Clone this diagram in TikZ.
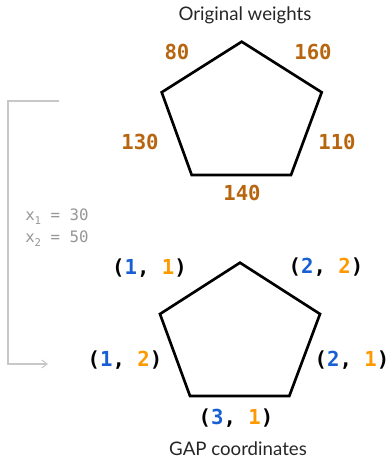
\documentclass[tikz,border=0pt]{standalone}
\usepackage{fontspec}
\setmainfont{Lato}
\newfontfamily\codefont{DejaVu Sans Mono}
\usepackage{xcolor}
\usetikzlibrary{arrows.meta}

\definecolor{wbrown}{RGB}{184,101,16}
\definecolor{gblue}{RGB}{24,95,212}
\definecolor{gorange}{RGB}{255,153,0}
\definecolor{guide}{RGB}{200,200,200}
\definecolor{note}{RGB}{150,150,150}

\newcommand{\gap}[2]{({\color{gblue}#1}, {\color{gorange}#2})}
\newcommand{\lowidx}[1]{\raisebox{-0.45ex}{\fontsize{8}{9}\selectfont #1}}

\begin{document}
\begin{tikzpicture}[
		x=0.75pt, y=-0.75pt,
		>=Stealth,
		poly/.style={draw=black, line width=2pt, line join=miter},
		weight/.style={font=\codefont\bfseries\fontsize{15.5}{17}\selectfont, text=wbrown, inner sep=0pt},
		coord/.style={font=\codefont\bfseries\fontsize{15.5}{17}\selectfont, text=black, inner sep=0pt},
		caption/.style={font=\fontsize{14}{16}\selectfont, text=black!85, inner sep=0pt},
		noteline/.style={font=\codefont\fontsize{11.8}{13}\selectfont, text=note, anchor=west, inner sep=0pt},
		guideline/.style={->, line width=0.8pt, guide, arrows={-Straight Barb[length=4pt,width=6pt]}}
		]
		\useasboundingbox (0,0) rectangle (390,458);
		
		% original weights
		\node[caption] (top title) at (245,15) {Original weights};
		\coordinate (t top) at (241.7,41.7);
		\coordinate (t ul) at (161.7,92.3);
		\coordinate (t ur) at (321.7,92.3);
		\coordinate (t ll) at (191.7,175);
		\coordinate (t lr) at (291,175);
		\draw[poly] (t top) -- (t ur) -- (t lr) -- (t ll) -- (t ul) -- cycle;
		\node[weight] (w ul) at (177,52) {80};
		\node[weight] (w ur) at (313,52) {160};
		\node[weight] (w l) at (140,142) {130};
		\node[weight] (w r) at (337,142) {110};
		\node[weight] (w b) at (242,193) {140};
		
		% GAP coordinates
		\coordinate (b top) at (240,262.7);
		\coordinate (b ul) at (160,314);
		\coordinate (b ur) at (320,314);
		\coordinate (b ll) at (190,396);
		\coordinate (b lr) at (289.3,396);
		\draw[poly] (b top) -- (b ur) -- (b lr) -- (b ll) -- (b ul) -- cycle;
		\node[coord] (g ul) at (149.5,268) {\gap{1}{1}};
		\node[coord] (g ur) at (326,267) {\gap{2}{2}};
		\node[coord] (g l) at (125,360) {\gap{1}{2}};
		\node[coord] (g r) at (352,360) {\gap{2}{1}};
		\node[coord] (g b) at (236,418) {\gap{3}{1}};
		\node[caption] (bottom title) at (238,449) {GAP coordinates};
		
		% mapping
		\coordinate (map start) at (59,101);
		\coordinate (map end) at (48,364);
		\draw[guideline] (map start) -- (8,101) |- (map end);
		\node[noteline] (x one) at (25,217) {x\lowidx{1} = 30};
		\node[noteline] (x two) at (25,239) {x\lowidx{2} = 50};
\end{tikzpicture}
\end{document}
